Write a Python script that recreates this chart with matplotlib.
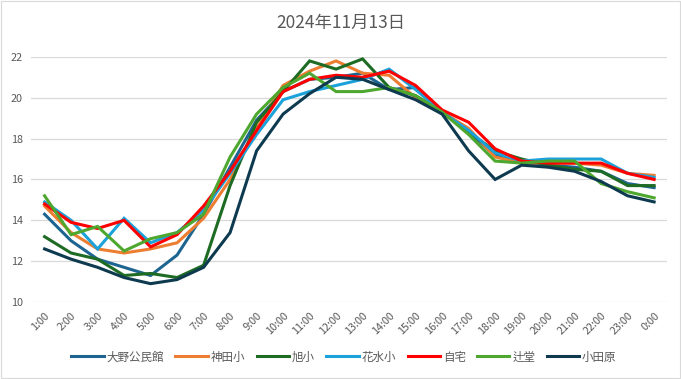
import matplotlib
matplotlib.use("Agg")
import matplotlib.pyplot as plt
import numpy as np

plt.rcParams["font.family"] = ["Noto Sans CJK JP", "DejaVu Sans"]

TITLE = "2024年11月13日"
hours = [f"{h}:00" for h in list(range(1, 24)) + [0]]

# temperatures (°C) per site
ohno = [14.3, 13.0, 12.1, 11.7, 11.3, 12.3, 14.3, 16.6, 18.9, 20.3, 20.9, 21.0, 21.2,
        20.4, 20.5, 19.3, 18.3, 17.2, 16.8, 16.7, 16.6, 16.4, 15.8, 15.6]
kanda = [14.7, 13.4, 12.6, 12.4, 12.6, 12.9, 14.1, 16.0, 18.5, 20.6, 21.3, 21.8, 21.2,
         21.1, 20.0, 19.3, 18.5, 17.1, 16.8, 16.8, 16.8, 16.7, 16.3, 16.2]
asahi = [13.2, 12.4, 12.1, 11.3, 11.4, 11.2, 11.8, 15.7, 18.8, 20.3, 21.8, 21.4, 21.9,
         20.5, 20.1, 19.3, 18.3, 17.4, 17.0, 16.7, 16.5, 16.4, 15.7, 15.7]
hanamizu = [14.9, 14.0, 12.6, 14.1, 12.9, 13.4, 14.5, 16.3, 18.2, 19.9, 20.3, 20.6, 20.9,
            21.4, 20.4, 19.3, 18.4, 17.3, 16.9, 17.0, 17.0, 17.0, 16.3, 16.1]
home = [14.8, 13.9, 13.6, 14.0, 12.7, 13.3, 14.7, 16.4, 18.4, 20.3, 20.9, 21.1, 21.0,
        21.3, 20.6, 19.4, 18.8, 17.5, 16.9, 16.8, 16.8, 16.8, 16.3, 16.0]
tsujido = [15.2, 13.3, 13.7, 12.5, 13.1, 13.4, 14.3, 17.1, 19.2, 20.5, 21.2, 20.3, 20.3,
           20.5, 20.1, 19.3, 18.2, 16.9, 16.8, 16.9, 16.9, 15.8, 15.4, 15.1]
odawara = [12.6, 12.1, 11.7, 11.2, 10.9, 11.1, 11.7, 13.4, 17.4, 19.2, 20.2, 21.0, 20.9,
           20.4, 19.9, 19.2, 17.4, 16.0, 16.7, 16.6, 16.4, 15.9, 15.2, 14.9]

series = [
    ("大野公民館", ohno, "#1d6590"),
    ("神田小", kanda, "#ed7d31"),
    ("旭小", asahi, "#1e6b24"),
    ("花水小", hanamizu, "#1ca2da"),
    ("自宅", home, "#ff0000"),
    ("辻堂", tsujido, "#4ea72e"),
    ("小田原", odawara, "#0e3a50"),
]

fig = plt.figure(figsize=(6.81, 3.79), dpi=100)
ax = fig.add_axes([0.046, 0.203, 0.934, 0.647])
x = np.arange(len(hours))
for name, vals, c in series:
    ax.plot(x, vals, color=c, linewidth=2.2, label=name, solid_joinstyle="miter")

ax.set_xlim(-0.5, len(hours) - 0.5)
ax.set_ylim(10, 22)
ax.set_yticks(np.arange(10, 23, 2))
ax.set_xticks(x)
ax.set_xticklabels(hours, rotation=45, ha="right", va="top",
                   rotation_mode="anchor", fontsize=7.8, color="#595959")
ax.tick_params(axis="y", labelsize=7.8, labelcolor="#595959", length=0, pad=6)
ax.tick_params(axis="x", length=0, pad=6)
ax.grid(True, axis="y", color="#d9d9d9", linewidth=0.9)
ax.set_axisbelow(True)
for s in ax.spines.values():
    s.set_visible(False)

fig.text(0.5, 0.94, TITLE, ha="center", va="center", fontsize=12.5, color="#595959")
fig.legend(loc="center", bbox_to_anchor=(0.505, 0.058), ncol=7, frameon=False,
           fontsize=8.3, handlelength=2.8, handletextpad=0.25, columnspacing=1.0,
           labelcolor="#595959")

fig.patches.append(plt.Rectangle((0.002, 0.003), 0.996, 0.994, transform=fig.transFigure,
                                 fill=False, edgecolor="#d9d9d9", linewidth=0.8))
fig.savefig("out.png", dpi=100)
